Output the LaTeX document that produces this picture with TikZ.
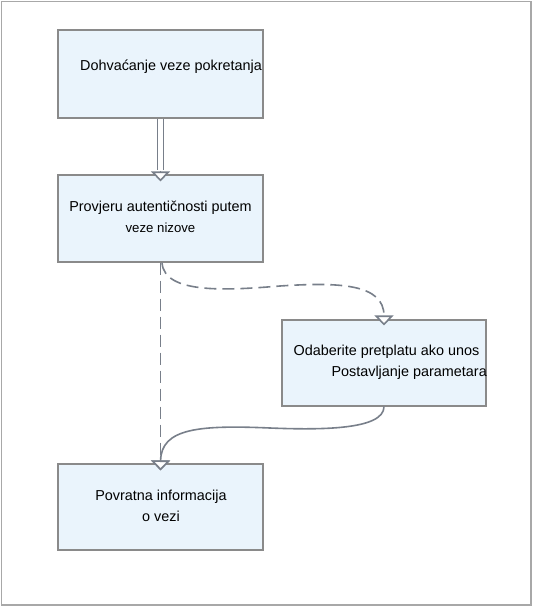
\documentclass[tikz,border=0pt]{standalone}
\usepackage{fontspec}
\setmainfont{Liberation Sans}
\usetikzlibrary{arrows.meta,calc}
\definecolor{boxfill}{HTML}{EAF4FC}
\definecolor{boxline}{HTML}{8A8A8A}
\definecolor{conn}{HTML}{787F8A}
\definecolor{frame}{HTML}{A8A8A8}
\tikzset{
  stepbox/.style={draw=boxline, fill=boxfill, line width=1.2pt, inner sep=0pt},
  txt/.style={inner sep=0pt, font=\fontsize{14.4}{16}\selectfont, text=black},
  txts/.style={inner sep=0pt, font=\fontsize{13.2}{15}\selectfont, text=black},
  tip/.style={-{Triangle[width=19pt,length=10pt,fill=white]}},
  conline/.style={draw=conn, line width=1.6pt},
  dashline/.style={conline, dash pattern=on 12pt off 6pt},
}
\begin{document}
\begin{tikzpicture}[x=1pt,y=-1pt]
\useasboundingbox (0,0) rectangle (533,608);
\draw[frame, line width=1.2pt] (1.5,1.5) rectangle (531,605);
% boxes
\node[stepbox, minimum width=205pt, minimum height=88pt] (b1) at (160.5,74) {};
\node[stepbox, minimum width=205pt, minimum height=87pt] (b2) at (160.5,218.5) {};
\node[stepbox, minimum width=204pt, minimum height=86pt] (b3) at (384,363) {};
\node[stepbox, minimum width=205pt, minimum height=86pt] (b4) at (160.5,507) {};
% texts
\node[txt] (t1) at (171,67) {Dohvaćanje veze pokretanja};
\node[txt] (t2a) at (160.5,208) {Provjeru autentičnosti putem};
\node[txts] (t2b) at (160.5,228) {veze nizove};
\node[txt] (t3a) at (386.5,352) {Odaberite pretplatu ako unos};
\node[txt, anchor=east] (t3b) at (487,373) {Postavljanje parametara};
\node[txt] (t4a) at (161,497) {Povratna informacija};
\node[txt] (t4b) at (161,516) {o vezi};
% coordinates
\coordinate (b2tip) at ($(b2.north)+(0,7)$);
\coordinate (b3tip) at ($(b3.north)+(0,6)$);
\coordinate (b4tip) at ($(b4.north)+(0,7)$);
% connectors
\draw[draw=conn, line width=1.3pt, double=white, double distance=4.5pt] (b1.south) -- ($(b2tip)+(0,-11)$);
\draw[conline, tip] ($(b2tip)+(0,-10.5)$) -- (b2tip);
\draw[dashline, tip] (b2.south) -- (b4tip);
\draw[dashline, tip] ($(b2.south)+(1.5,0)$) .. controls (164,295) and (230,290) .. (280,286)
   .. controls (340,282) and (384,284) .. (b3tip);
\draw[conline, tip] (b3.south) .. controls (384,430) and (320,430) .. (270,428)
   .. controls (200,425) and (161,428) .. (b4tip);
\end{tikzpicture}
\end{document}
